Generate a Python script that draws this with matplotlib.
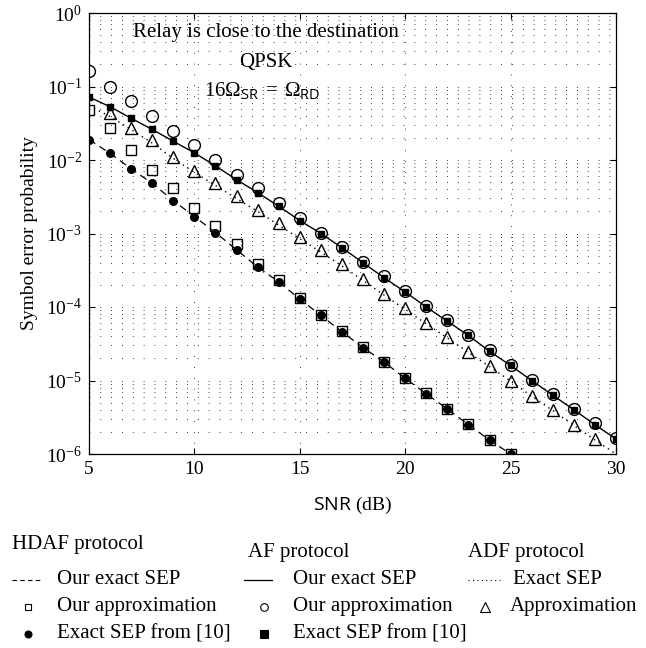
import numpy as np
import matplotlib
matplotlib.use("Agg")
import matplotlib.pyplot as plt
from matplotlib.ticker import LogLocator, NullFormatter

plt.rcParams['font.family'] = ['Liberation Serif', 'DejaVu Serif']
plt.rcParams['mathtext.fontset'] = 'custom'
plt.rcParams['mathtext.rm'] = 'Liberation Serif'
plt.rcParams['mathtext.it'] = 'Liberation Serif:italic'
plt.rcParams['mathtext.sf'] = 'Open Sans'

# datos (SNR en dB)
snr = np.arange(5, 31)

hdaf_exacta = [1.9e-2, 1.23e-2, 7.6e-3, 4.8e-3, 2.8e-3, 1.7e-3, 1.03e-3, 6.0e-4, 3.5e-4,
               2.2e-4, 1.28e-4, 7.7e-5, 4.6e-5, 2.8e-5, 1.78e-5, 1.07e-5, 6.6e-6, 4.1e-6,
               2.5e-6, 1.55e-6, 1.0e-6]
hdaf_ref10 = [1.9e-2, 1.23e-2, 7.6e-3, 4.8e-3, 2.8e-3, 1.7e-3, 1.03e-3, 6.0e-4, 3.5e-4,
              2.2e-4, 1.28e-4, 7.7e-5, 4.6e-5, 2.8e-5, 1.78e-5, 1.07e-5, 6.6e-6, 4.1e-6,
              2.5e-6, 1.55e-6, 1.0e-6]
hdaf_aprox = [4.8e-2, 2.7e-2, 1.35e-2, 7.4e-3, 4.1e-3, 2.2e-3, 1.25e-3, 7.1e-4, 3.9e-4,
              2.3e-4, 1.33e-4, 7.9e-5, 4.7e-5, 2.85e-5, 1.8e-5, 1.08e-5, 6.7e-6, 4.15e-6,
              2.55e-6, 1.57e-6, 1.0e-6]

af_exacta = [7.2e-2, 5.3e-2, 3.7e-2, 2.6e-2, 1.8e-2, 1.25e-2, 8.3e-3, 5.4e-3, 3.6e-3,
             2.35e-3, 1.5e-3, 1.0e-3, 6.4e-4, 4.0e-4, 2.5e-4, 1.6e-4, 1.0e-4, 6.4e-5,
             4.1e-5, 2.5e-5, 1.6e-5, 1.0e-5, 6.3e-6, 4.0e-6, 2.5e-6, 1.6e-6]
af_ref10 = [7.2e-2, 5.3e-2, 3.7e-2, 2.6e-2, 1.8e-2, 1.25e-2, 8.3e-3, 5.4e-3, 3.6e-3,
            2.35e-3, 1.5e-3, 1.0e-3, 6.4e-4, 4.0e-4, 2.5e-4, 1.6e-4, 1.0e-4, 6.4e-5,
            4.1e-5, 2.5e-5, 1.6e-5, 1.0e-5, 6.3e-6, 4.0e-6, 2.5e-6, 1.6e-6]
af_aprox = [0.16, 0.10, 6.4e-2, 4.0e-2, 2.5e-2, 1.58e-2, 1.0e-2, 6.3e-3, 4.1e-3, 2.6e-3,
            1.65e-3, 1.03e-3, 6.6e-4, 4.1e-4, 2.6e-4, 1.65e-4, 1.03e-4, 6.6e-5, 4.2e-5,
            2.6e-5, 1.65e-5, 1.03e-5, 6.5e-6, 4.1e-6, 2.6e-6, 1.65e-6]

adf_exacta = [5.5e-2, 3.9e-2, 2.6e-2, 1.7e-2, 1.05e-2, 6.8e-3, 4.5e-3, 3.0e-3, 2.0e-3,
              1.3e-3, 8.5e-4, 5.6e-4, 3.6e-4, 2.3e-4, 1.45e-4, 9.3e-5, 5.9e-5, 3.8e-5,
              2.4e-5, 1.55e-5, 9.8e-6, 6.1e-6, 3.9e-6, 2.45e-6, 1.55e-6, 1.0e-6]
snr_adf = np.arange(6, 30)
adf_aprox = [4.4e-2, 2.75e-2, 1.9e-2, 1.1e-2, 7.1e-3, 4.9e-3, 3.2e-3, 2.1e-3, 1.4e-3,
             8.9e-4, 5.9e-4, 3.8e-4, 2.4e-4, 1.5e-4, 9.6e-5, 6.0e-5, 3.9e-5, 2.45e-5,
             1.58e-5, 1.0e-5, 6.2e-6, 4.0e-6, 2.5e-6, 1.58e-6]

W, H = 646, 648
fig = plt.figure(figsize=(W / 100, H / 100), dpi=100)
ax = fig.add_axes([89 / W, 1 - 454 / H, 527 / W, 441 / H])

n = len(hdaf_exacta)
ax.plot(snr[:n], hdaf_exacta, color='k', lw=0.9, ls=(0, (6, 4)))
ax.plot(snr, af_exacta, color='k', lw=1.0, ls='-')
ax.plot(snr, adf_exacta, color='k', lw=1.0, ls=(0, (1, 3)))

ax.plot(snr[:n], hdaf_aprox, 's', ms=7.5, mfc='none', mec='k', mew=1.0)
ax.plot(snr[:n], hdaf_ref10, 'o', ms=5.5, mfc='k', mec='k')
ax.plot(snr, af_aprox, 'o', ms=8.5, mfc='none', mec='k', mew=1.0)
ax.plot(snr, af_ref10, 's', ms=5, mfc='k', mec='k')
ax.plot(snr_adf, adf_aprox, '^', ms=9, mfc='none', mec='k', mew=1.0)

ax.set_yscale('log')
ax.set_xlim(5, 30)
ax.set_ylim(1e-6, 1)
ax.set_xticks([5, 10, 15, 20, 25, 30])
ax.yaxis.set_major_locator(LogLocator(base=10, numticks=10))
ax.yaxis.set_minor_locator(LogLocator(base=10, subs=np.arange(2, 10), numticks=20))
ax.yaxis.set_minor_formatter(NullFormatter())
ax.tick_params(which='major', direction='in', length=4, width=0.8, top=True, right=True,
               labelsize=14, pad=5)
ax.tick_params(which='minor', length=0)
ax.grid(True, which='major', color='k', lw=0.6, ls=(0, (1, 12)))
ax.grid(True, which='minor', axis='y', color='k', lw=0.6, ls=(0, (1, 12)))
for s in ax.spines.values():
    s.set_linewidth(0.9)

ax.set_xlabel(r'$\mathsf{SNR}$ (dB)', fontsize=14, labelpad=12)
ax.set_ylabel('Symbol error probability', fontsize=14, labelpad=6)

ax.text(0.336, 0.955, 'Relay is close to the destination', transform=ax.transAxes,
        ha='center', va='center', fontsize=15)
ax.text(0.336, 0.887, 'QPSK', transform=ax.transAxes, ha='center', va='center', fontsize=15)
ax.text(0.329, 0.825, r'16$\Omega_{\mathsf{SR}}\;=\;\Omega_{\mathsf{RD}}$', transform=ax.transAxes,
        ha='center', va='center', fontsize=15)


# leyenda en tres columnas debajo del grafico
def fx(x):
    return x / W


def fy(y):
    return 1 - y / H


def muestra(x0, x1, y, ls=None, marker=None, ms=5, mfc='k', lw=0.9):
    if ls is not None:
        fig.add_artist(plt.Line2D([fx(x0), fx(x1)], [fy(y), fy(y)], transform=fig.transFigure,
                                  color='k', lw=lw, ls=ls))
    if marker is not None:
        fig.add_artist(plt.Line2D([fx((x0 + x1) / 2)], [fy(y)], transform=fig.transFigure,
                                  marker=marker, ms=ms, mfc=mfc, mec='k', mew=0.8, ls='none'))


def etiqueta(x, y, texto):
    fig.text(fx(x), fy(y), texto, ha='left', va='center', fontsize=15)


etiqueta(12, 545, 'HDAF protocol')
muestra(12, 40, 580, ls=(0, (4, 3)), lw=0.8)
etiqueta(57, 580, 'Our exact SEP')
muestra(22, 34, 607, marker='s', ms=5, mfc='none')
etiqueta(57, 607, 'Our approximation')
muestra(22, 34, 634, marker='o', ms=5)
etiqueta(57, 634, 'Exact SEP from [10]')

etiqueta(248, 553, 'AF protocol')
muestra(244, 272, 580, ls='-')
etiqueta(293, 580, 'Our exact SEP')
muestra(258, 270, 607, marker='o', ms=5.5, mfc='none')
etiqueta(293, 607, 'Our approximation')
muestra(258, 270, 634, marker='s', ms=5.5)
etiqueta(293, 634, 'Exact SEP from [10]')

etiqueta(468, 553, 'ADF protocol')
muestra(468, 500, 580, ls=(0, (1, 3)), lw=0.8)
etiqueta(513, 580, 'Exact SEP')
muestra(479, 491, 607, marker='^', ms=6.5, mfc='none')
etiqueta(510, 607, 'Approximation')

fig.savefig('out.png', dpi=100)
plt.close()
